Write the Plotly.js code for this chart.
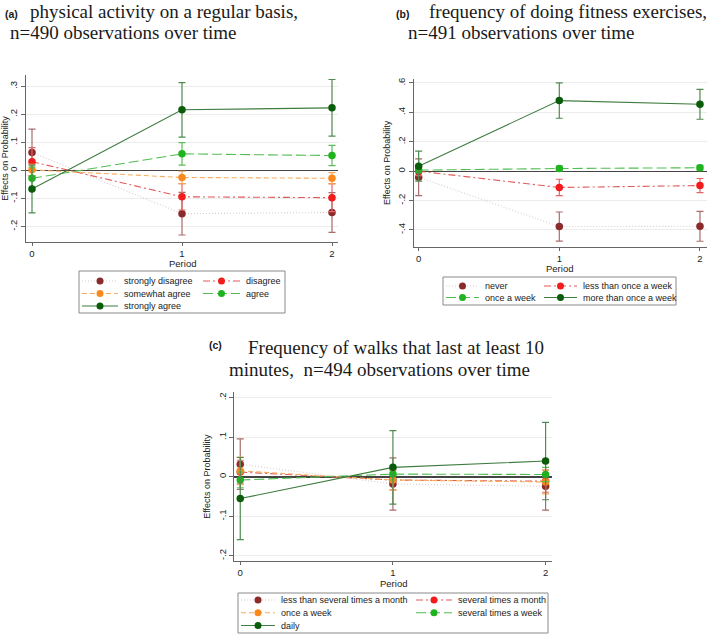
<!DOCTYPE html>
<html><head><meta charset="utf-8">
<script src="https://cdn.plot.ly/plotly-3.0.1.min.js"></script>
<style>html,body{margin:0;padding:0;background:#fff;} #chart{width:709px;height:638px;}</style>
</head><body><div id="chart"></div>
<script>
// ---------------- DATA ----------------
const periods = [0, 1, 2];
const periodLabels = ['0', '1', '2'];

// Panel (a): physical activity on a regular basis
const aNames = ['strongly disagree', 'disagree', 'somewhat agree', 'agree', 'strongly agree'];
const aStronglyDisagree   = [0.064, -0.154, -0.150];
const aStronglyDisagreeCI = [0.083, 0.076, 0.071];
const aDisagree           = [0.031, -0.094, -0.097];
const aDisagreeCI         = [0.050, 0.047, 0.050];
const aSomewhatAgree      = [0.002, -0.025, -0.028];
const aSomewhatAgreeCI    = [0.020, 0.022, 0.020];
const aAgree              = [-0.028, 0.059, 0.053];
const aAgreeCI            = [0.040, 0.040, 0.036];
const aStronglyAgree      = [-0.066, 0.216, 0.223];
const aStronglyAgreeCI    = [0.085, 0.097, 0.101];
const aTickVals = [-0.2, -0.1, 0, 0.1, 0.2, 0.3];
const aTickText = ['-.2', '-.1', '0', '.1', '.2', '.3'];

// Panel (b): frequency of doing fitness exercises
const bNames = ['never', 'less than once a week', 'once a week', 'more than once a week'];
const bNever             = [-0.041, -0.377, -0.375];
const bNeverCI           = [0.125, 0.099, 0.102];
const bLessThanOnce      = [0.000, -0.111, -0.098];
const bLessThanOnceCI    = [0.030, 0.056, 0.048];
const bOnceWeek          = [0.007, 0.018, 0.023];
const bOnceWeekCI        = [0.012, 0.016, 0.016];
const bMoreThanOnce      = [0.034, 0.480, 0.455];
const bMoreThanOnceCI    = [0.102, 0.120, 0.102];
const bTickVals = [-0.4, -0.2, 0, 0.2, 0.4, 0.6];
const bTickText = ['-.4', '-.2', '0', '.2', '.4', '.6'];

// Panel (c): frequency of walks that last at least 10 minutes
const cNames = ['less than several times a month', 'several times a month', 'once a week', 'several times a week', 'daily'];
const cLessSeveralMonth    = [0.032, -0.018, -0.024];
const cLessSeveralMonthCI  = [0.064, 0.066, 0.060];
const cSeveralMonth        = [0.012, -0.008, -0.011];
const cSeveralMonthCI      = [0.030, 0.025, 0.028];
const cOnceWeek            = [0.015, -0.008, -0.013];
const cOnceWeekCI          = [0.035, 0.025, 0.030];
const cSeveralWeek         = [-0.008, 0.007, 0.006];
const cSeveralWeekCI       = [0.020, 0.015, 0.018];
const cDaily               = [-0.055, 0.024, 0.040];
const cDailyCI             = [0.104, 0.093, 0.098];
const cTickVals = [-0.2, -0.1, 0, 0.1, 0.2];
const cTickText = ['-.2', '-.1', '0', '.1', '.2'];

// ---------------- STYLES ----------------
const W = 709, H = 638;
const SANS = 'Arial, "Liberation Sans", sans-serif';
const SERIF = '"Times New Roman", "Liberation Serif", serif';
const ST = {
  maroon: {marker: '#8b2a2a', line: '#d9cccc', err: '#a86c6c', dash: '1px,2px'},
  red:    {marker: '#f21c1c', line: '#e25a5a', err: '#e36565', dash: '7px,3px,2px,3px'},
  orange: {marker: '#fb8a1e', line: '#f6ad62', err: '#f4a65c', dash: '5px,3px'},
  green:  {marker: '#1fb41f', line: '#52bd52', err: '#5abd5a', dash: '10px,4px'},
  dgreen: {marker: '#0a5c0a', line: '#3f7c3f', err: '#4f8a4f', dash: 'solid'}
};

function px(x) { return x / W; }
function py(y) { return 1 - y / H; }

function series(name, y, ci, st, xa, ya) {
  const s = ST[st];
  return {
    type: 'scatter', mode: 'lines+markers', name: name,
    x: periods, y: y, xaxis: xa, yaxis: ya, showlegend: false,
    line: {color: s.line, width: 1.1, dash: s.dash},
    marker: {color: s.marker, size: 7.5},
    error_y: {type: 'data', array: ci, visible: true, color: s.err, thickness: 1.2, width: 3.5}
  };
}

const traces = [
  series(aNames[0], aStronglyDisagree, aStronglyDisagreeCI, 'maroon', 'x', 'y'),
  series(aNames[1], aDisagree, aDisagreeCI, 'red', 'x', 'y'),
  series(aNames[2], aSomewhatAgree, aSomewhatAgreeCI, 'orange', 'x', 'y'),
  series(aNames[3], aAgree, aAgreeCI, 'green', 'x', 'y'),
  series(aNames[4], aStronglyAgree, aStronglyAgreeCI, 'dgreen', 'x', 'y'),

  series(bNames[0], bNever, bNeverCI, 'maroon', 'x2', 'y2'),
  series(bNames[1], bLessThanOnce, bLessThanOnceCI, 'red', 'x2', 'y2'),
  series(bNames[2], bOnceWeek, bOnceWeekCI, 'green', 'x2', 'y2'),
  series(bNames[3], bMoreThanOnce, bMoreThanOnceCI, 'dgreen', 'x2', 'y2'),

  series(cNames[0], cLessSeveralMonth, cLessSeveralMonthCI, 'maroon', 'x3', 'y3'),
  series(cNames[1], cSeveralMonth, cSeveralMonthCI, 'red', 'x3', 'y3'),
  series(cNames[2], cOnceWeek, cOnceWeekCI, 'orange', 'x3', 'y3'),
  series(cNames[3], cSeveralWeek, cSeveralWeekCI, 'green', 'x3', 'y3'),
  series(cNames[4], cDaily, cDailyCI, 'dgreen', 'x3', 'y3')
];

function xAxis(l, r, range, anchor) {
  return {
    domain: [px(l), px(r)], range: range, anchor: anchor,
    tickmode: 'array', tickvals: periods, ticktext: periodLabels,
    showline: true, linecolor: '#666', linewidth: 1,
    ticks: 'outside', ticklen: 3, tickcolor: '#666', ticklabelstandoff: 0,
    showgrid: false, zeroline: false,
    tickfont: {family: SANS, size: 9.5, color: '#222'}
  };
}
function yAxis(top, bottom, range, tv, tt, anchor) {
  return {
    domain: [py(bottom), py(top)], range: range, anchor: anchor,
    tickmode: 'array', tickvals: tv, ticktext: tt, tickangle: -90,
    showline: true, linecolor: '#666', linewidth: 1,
    ticks: 'outside', ticklen: 4, tickcolor: '#666',
    showgrid: true, gridcolor: '#ececec', gridwidth: 1,
    zeroline: true, zerolinecolor: '#444', zerolinewidth: 1.3,
    tickfont: {family: SANS, size: 9.5, color: '#222'},
    title: {text: 'Effects on Probability', font: {family: SANS, size: 9, color: '#222'}, standoff: 4}
  };
}

const annotations = [];
const shapes = [];
function note(text, x, y, size, family, extra) {
  annotations.push(Object.assign({
    text: text, x: px(x), y: py(y), xref: 'paper', yref: 'paper',
    xanchor: 'left', yanchor: 'middle', showarrow: false,
    font: {family: family, size: size, color: '#1a1a1a'}
  }, extra || {}));
}
const bold = {family: SANS, size: 10.5, color: '#1a1a1a', weight: 'bold'};
// Panel titles
note('(a)', 3, 14, 10.5, SANS, {font: bold});
note('physical activity on a regular basis,', 28, 11, 19, SERIF);
note('n=490 observations over time', 8, 32, 19, SERIF);
note('(b)', 394, 14, 10.5, SANS, {font: bold});
note('frequency of doing fitness exercises,', 427, 11, 19, SERIF);
note('n=491 observations over time', 406, 32, 19, SERIF);
note('(c)', 207, 345, 10.5, SANS, {font: bold});
note('Frequency of walks that last at least 10', 246, 347, 19, SERIF);
note('minutes,  n=494 observations over time', 227, 369, 19, SERIF);

// x-axis titles
const axFont = {family: SANS, size: 9.5, color: '#222'};
note('Period', 182, 263.5, 9.5, SANS, {xanchor: 'center', font: axFont, borderpad: 0});
note('Period', 559, 269, 9.5, SANS, {xanchor: 'center', font: axFont, borderpad: 0});
note('Period', 393, 583, 9.5, SANS, {xanchor: 'center', font: axFont, borderpad: 0});

// Legend keys (layout decoration)
function legendBox(x0, y0, x1, y1) {
  shapes.push({type: 'rect', xref: 'paper', yref: 'paper', x0: px(x0), x1: px(x1), y0: py(y1), y1: py(y0),
    line: {color: '#8a8a8a', width: 1}, fillcolor: 'rgba(0,0,0,0)'});
}
function legendItem(st, label, lx0, lx1, ty, tx) {
  const s = ST[st];
  shapes.push({type: 'line', xref: 'paper', yref: 'paper', x0: px(lx0), x1: px(lx1), y0: py(ty), y1: py(ty),
    line: {color: s.line, width: 1.1, dash: s.dash}});
  shapes.push({type: 'circle', xref: 'paper', yref: 'paper', xsizemode: 'pixel', ysizemode: 'pixel',
    xanchor: px((lx0 + lx1) / 2), yanchor: py(ty), x0: -3.5, x1: 3.5, y0: -3.5, y1: 3.5,
    fillcolor: s.marker, line: {width: 0}});
  note(label, tx, ty, 9, SANS, {font: {family: SANS, size: 9, color: '#222'}});
}
// (a)
legendBox(79, 271, 285, 313);
legendItem('maroon', aNames[0], 82, 118, 281, 122);
legendItem('red', aNames[1], 203, 240, 281, 244);
legendItem('orange', aNames[2], 82, 118, 293.5, 122);
legendItem('green', aNames[3], 203, 240, 293.5, 244);
legendItem('dgreen', aNames[4], 82, 118, 306, 122);
// (b)
legendBox(443, 277, 676, 305);
legendItem('maroon', bNames[0], 446, 479, 286, 483);
legendItem('red', bNames[1], 544, 577, 286, 581);
legendItem('green', bNames[2], 446, 479, 297.5, 483);
legendItem('dgreen', bNames[3], 544, 577, 297.5, 581);
// (c)
legendBox(238, 593, 548, 633);
legendItem('maroon', cNames[0], 241, 275, 600, 279);
legendItem('red', cNames[1], 416, 452, 600, 456);
legendItem('orange', cNames[2], 241, 275, 612.7, 279);
legendItem('green', cNames[3], 416, 452, 612.7, 456);
legendItem('dgreen', cNames[4], 241, 275, 625.5, 279);

const layout = {
  width: W, height: H,
  margin: {l: 0, r: 0, t: 0, b: 0},
  paper_bgcolor: '#ffffff', plot_bgcolor: '#ffffff',
  showlegend: false,
  font: {family: SANS, color: '#222'},
  xaxis: xAxis(26, 338, [-0.04, 2.04], 'y'),
  yaxis: yAxis(75, 242, [-0.255, 0.34], aTickVals, aTickText, 'x'),
  xaxis2: xAxis(414, 707, [-0.033, 2.05], 'y2'),
  yaxis2: yAxis(79, 246.7, [-0.514, 0.627], bTickVals, bTickText, 'x2'),
  xaxis3: xAxis(234.3, 551.7, [-0.039, 2.04], 'y3'),
  yaxis3: yAxis(392.3, 561, [-0.213, 0.214], cTickVals, cTickText, 'x3'),
  annotations: annotations,
  shapes: shapes
};

Plotly.newPlot('chart', traces, layout, {displayModeBar: false, staticPlot: true});
</script>
</body></html>
